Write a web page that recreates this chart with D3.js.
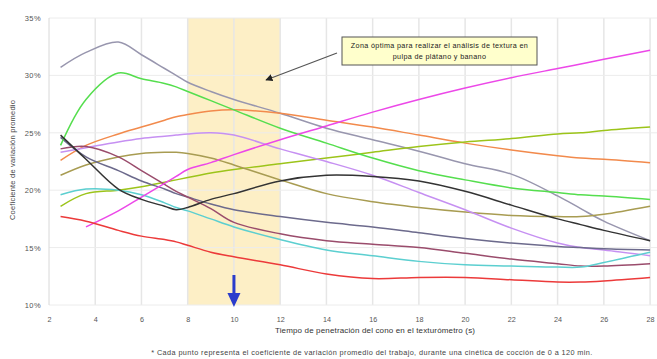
<!DOCTYPE html>
<html>
<head>
<meta charset="utf-8">
<script src="https://cdn.jsdelivr.net/npm/d3@7"></script>
<style>
  body { margin: 0; background: #fff; }
  svg { font-family: "Liberation Sans", Arial, sans-serif; }
</style>
</head>
<body>
<div id="chart"></div>
<script>
const times = [2.5, 3.6, 5, 6, 7, 7.5, 8, 9, 10, 12, 14, 16, 18, 20, 22, 24, 25, 26, 28];

const gray     = [30.7, 32.0, 32.9, 31.8, 30.6, 30.0, 29.4, 28.6, 27.9, 26.7, 25.4, 24.4, 23.4, 22.3, 21.4, 19.5, 18.4, 17.3, 15.6];
const green    = [23.9, 27.9, 30.2, 29.7, 29.3, 29.0, 28.6, 27.8, 27.0, 25.4, 24.1, 22.8, 21.7, 20.9, 20.2, 19.8, 19.6, 19.5, 19.2];
const orange   = [22.6, 23.9, 24.9, 25.5, 26.1, 26.4, 26.6, 26.9, 27.0, 26.7, 26.1, 25.5, 24.8, 24.1, 23.5, 23.0, 22.8, 22.7, 22.4];
const pink     = [null, 16.8, 18.2, 19.4, 20.6, 21.2, 21.8, 22.4, 23.1, 24.4, 25.6, 26.8, 27.9, 28.9, 29.8, 30.6, 31.0, 31.4, 32.2];
const lime     = [18.6, 19.7, 20.0, 20.3, 20.7, 20.9, 21.1, 21.5, 21.8, 22.3, 22.8, 23.3, 23.8, 24.2, 24.5, 24.9, 25.0, 25.2, 25.5];
const lavender = [23.3, 23.7, 24.2, 24.5, 24.7, 24.8, 24.9, 25.0, 24.8, 23.6, 22.5, 21.3, 19.8, 18.3, 16.7, 15.4, 15.0, 14.8, 14.3];
const olive    = [21.3, 22.2, 22.9, 23.2, 23.3, 23.3, 23.2, 22.8, 22.2, 20.9, 19.7, 19.0, 18.5, 18.1, 17.8, 17.7, 17.7, 17.9, 18.6];
const black    = [24.8, 22.7, 20.1, 19.2, 18.6, 18.3, 18.5, 19.2, 19.7, 20.8, 21.3, 21.2, 20.8, 19.9, 18.7, 17.5, 17.0, 16.5, 15.6];
const slate    = [24.6, 22.9, 21.7, 20.8, 20.1, 19.7, 19.4, 18.8, 18.3, 17.7, 17.2, 16.8, 16.3, 15.8, 15.4, 15.1, 15.0, 14.9, 14.8];
const maroon   = [23.6, 23.8, 22.9, 21.7, 20.5, 19.9, 19.4, 18.4, 17.2, 16.2, 15.6, 15.3, 15.0, 14.5, 14.0, 13.6, 13.4, 13.4, 13.6];
const cyan     = [19.6, 20.1, 20.0, 19.6, 18.9, 18.5, 18.2, 17.5, 16.8, 15.7, 14.8, 14.3, 13.8, 13.5, 13.4, 13.3, 13.3, 13.7, 14.6];
const red      = [17.7, 17.3, 16.5, 16.0, 15.7, 15.5, 15.2, 14.6, 14.2, 13.5, 12.7, 12.3, 12.4, 12.4, 12.2, 12.0, 12.0, 12.1, 12.4];

const xTicks = [2, 4, 6, 8, 10, 12, 14, 16, 18, 20, 22, 24, 26, 28];
const yTicks = [10, 15, 20, 25, 30, 35];
const zone = [8, 12];

const series = [
    { name: "gray", values: gray, color: "#9896ae" },
    { name: "orange", values: orange, color: "#f28a4c" },
    { name: "lime", values: lime, color: "#9cc41a" },
    { name: "olive", values: olive, color: "#a89c52" },
    { name: "lavender", values: lavender, color: "#c690f2" },
    { name: "slate", values: slate, color: "#6c6a8c" },
    { name: "maroon", values: maroon, color: "#9a4c6c" },
    { name: "cyan", values: cyan, color: "#5ccfd0" },
    { name: "green", values: green, color: "#55de4e" },
    { name: "pink", values: pink, color: "#ec48e8" },
    { name: "black", values: black, color: "#333333" },
    { name: "red", values: red, color: "#ec3a3a" }
];

const width = 657, height = 359;
const plotLeft = 49, plotRight = 657, plotTop = 18, plotBottom = 305;

const x = d3.scaleLinear().domain([2, 28.3]).range([plotLeft, plotRight]);
const y = d3.scaleLinear().domain([10, 35]).range([plotBottom, plotTop]);

const svg = d3.select("#chart")
    .append("svg")
    .attr("width", width)
    .attr("height", height);

const defs = svg.append("defs");

defs.append("clipPath")
    .attr("id", "plot")
    .append("rect")
    .attr("x", plotLeft).attr("y", plotTop)
    .attr("width", plotRight - plotLeft).attr("height", plotBottom - plotTop);

defs.append("marker")
    .attr("id", "head")
    .attr("viewBox", "0 0 10 10")
    .attr("refX", 9).attr("refY", 5)
    .attr("markerWidth", 6).attr("markerHeight", 6)
    .attr("orient", "auto")
    .append("path")
    .attr("d", "M0,0L10,5L0,10Z")
    .attr("fill", "#222");

// optimal zone
svg.append("rect")
    .attr("x", x(zone[0]))
    .attr("y", plotTop)
    .attr("width", x(zone[1]) - x(zone[0]))
    .attr("height", plotBottom - plotTop)
    .attr("fill", "#fdefc6");

// grid
svg.append("g")
    .selectAll("line")
    .data(xTicks.slice(1))
    .enter().append("line")
    .attr("x1", d => x(d)).attr("x2", d => x(d))
    .attr("y1", plotTop).attr("y2", plotBottom)
    .attr("stroke", "#e6e6e6")
    .attr("stroke-width", 1.5);

svg.append("g")
    .selectAll("line")
    .data(yTicks)
    .enter().append("line")
    .attr("x1", plotLeft).attr("x2", plotRight)
    .attr("y1", d => y(d)).attr("y2", d => y(d))
    .attr("stroke", "#ececec")
    .attr("stroke-width", 1);

svg.append("line")
    .attr("x1", plotLeft).attr("x2", plotLeft)
    .attr("y1", plotTop).attr("y2", plotBottom)
    .attr("stroke", "#d8d8d8");

// axes
const xAxis = svg.append("g")
    .attr("transform", `translate(0,${plotBottom + 9})`)
    .call(d3.axisBottom(x).tickValues(xTicks).tickSize(0));
xAxis.select(".domain").remove();
xAxis.selectAll("text").attr("font-size", 7.2).attr("fill", "#555");

const yAxis = svg.append("g")
    .attr("transform", `translate(${plotLeft - 5},0)`)
    .call(d3.axisLeft(y).tickValues(yTicks).tickSize(0).tickFormat(d => d + "%"));
yAxis.select(".domain").remove();
yAxis.selectAll("text").attr("font-size", 7.5).attr("letter-spacing", 0.4).attr("fill", "#555");

// lines
const line = d3.line()
    .x(d => x(d[0]))
    .y(d => y(d[1]))
    .curve(d3.curveCatmullRom.alpha(0.5));

svg.append("g")
    .attr("clip-path", "url(#plot)")
    .attr("fill", "none")
    .attr("stroke-width", 1.5)
    .selectAll("path")
    .data(series)
    .enter().append("path")
    .attr("stroke", d => d.color)
    .attr("d", d => line(times.map((t, i) => [t, d.values[i]]).filter(p => p[1] !== null)));

// annotation box
svg.append("rect")
    .attr("x", 342).attr("y", 37)
    .attr("width", 195).attr("height", 28)
    .attr("fill", "#ffffcc")
    .attr("stroke", "#555")
    .attr("stroke-width", 1);

svg.append("text")
    .attr("x", 439.5).attr("y", 48)
    .attr("text-anchor", "middle")
    .attr("font-size", 7.2)
    .attr("letter-spacing", 0.35)
    .attr("fill", "#222")
    .text("Zona óptima para realizar el análisis de textura en");

svg.append("text")
    .attr("x", 439.5).attr("y", 59)
    .attr("text-anchor", "middle")
    .attr("font-size", 7.2)
    .attr("letter-spacing", 0.35)
    .attr("fill", "#222")
    .text("pulpa de plátano y banano");

svg.append("line")
    .attr("x1", 337).attr("y1", 53)
    .attr("x2", 266).attr("y2", 80)
    .attr("stroke", "#555")
    .attr("stroke-width", 1.2)
    .attr("marker-end", "url(#head)");

// blue arrow at 10 s
const ax = x(10);
svg.append("rect")
    .attr("x", ax - 1.5).attr("y", 275)
    .attr("width", 3).attr("height", 19)
    .attr("fill", "#2a3ccc");
svg.append("path")
    .attr("d", `M${ax - 6.5},293L${ax + 6.5},293L${ax},307Z`)
    .attr("fill", "#2a3ccc");

// titles
svg.append("text")
    .attr("transform", `translate(15,160) rotate(-90)`)
    .attr("text-anchor", "middle")
    .attr("font-size", 7.5)
    .attr("letter-spacing", 0.2)
    .attr("fill", "#444")
    .text("Coeficiente de variación promedio");

svg.append("text")
    .attr("x", 375).attr("y", 333)
    .attr("text-anchor", "middle")
    .attr("font-size", 8)
    .attr("letter-spacing", 0.15)
    .attr("fill", "#333")
    .text("Tiempo de penetración del cono en el texturómetro (s)");

svg.append("text")
    .attr("x", 372).attr("y", 355)
    .attr("text-anchor", "middle")
    .attr("font-size", 7.3)
    .attr("letter-spacing", 0.4)
    .attr("fill", "#444")
    .text("* Cada punto representa el coeficiente de variación promedio del trabajo, durante una cinética de cocción de 0 a 120 min.");
</script>
</body>
</html>
